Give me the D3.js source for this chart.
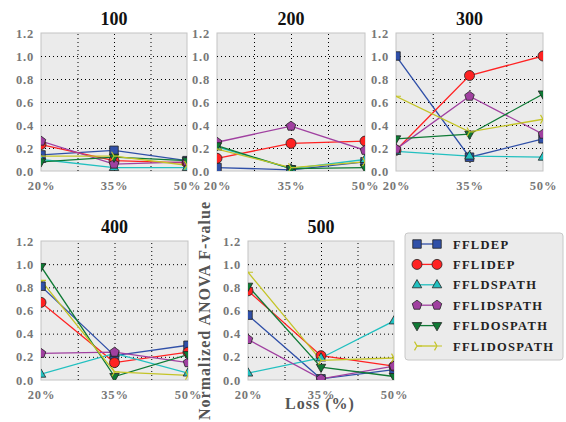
<!DOCTYPE html>
<html lang="en">
<head>
<meta charset="UTF-8">
<script src="https://cdnjs.cloudflare.com/ajax/libs/d3/7.8.5/d3.min.js"></script>
<title>Normalized ANOVA F-value</title>
<style>
  body { margin: 0; background: #fff; }
  text { font-family: "Liberation Serif", "DejaVu Serif", serif; font-weight: bold; }
</style>
</head>
<body>
<div id="chart"></div>
<script>
/* data */
var lossValues = [20, 35, 50];
var lossLabels = ["20%", "35%", "50%"];
var yTicks = [0, 0.2, 0.4, 0.6, 0.8, 1.0, 1.2];
var panelTitles = ["100", "200", "300", "400", "500"];
var seriesNames = ["FFLDEP", "FFLIDEP", "FFLDSPATH", "FFLIDSPATH", "FFLDOSPATH", "FFLIDOSPATH"];

/* one row per series, in seriesNames order: values at 20%, 35%, 50% */
var vals100 = [[0.14, 0.18, 0.09], [0.23, 0.09, 0.07], [0.10, 0.03, 0.03], [0.26, 0.06, 0.08], [0.08, 0.12, 0.09], [0.13, 0.13, 0.05]];
var vals200 = [[0.03, 0.01, 0.08], [0.11, 0.24, 0.26], [0.21, 0.02, 0.10], [0.25, 0.39, 0.18], [0.22, 0.02, 0.03], [0.19, 0.03, 0.08]];
var vals300 = [[1.00, 0.12, 0.28], [0.18, 0.83, 1.00], [0.17, 0.13, 0.12], [0.19, 0.65, 0.32], [0.28, 0.32, 0.67], [0.65, 0.34, 0.45]];
var vals400 = [[0.81, 0.21, 0.30], [0.67, 0.15, 0.24], [0.05, 0.23, 0.06], [0.23, 0.24, 0.15], [0.98, 0.03, 0.22], [0.86, 0.07, 0.04]];
var vals500 = [[0.56, 0.01, 0.09], [0.77, 0.21, 0.12], [0.06, 0.19, 0.51], [0.35, 0.01, 0.12], [0.81, 0.11, 0.03], [0.93, 0.17, 0.19]];

var colors = ["#3050a8", "#ff2222", "#22c0c0", "#a040a0", "#0f7a35", "#c4c428"];

var W = 566, H = 422;
var svg = d3.select("#chart").append("svg").attr("width", W).attr("height", H);

/* panel boxes [left, right, top, bottom] */
var boxes = [
  [41, 187, 33, 171],
  [217, 365, 33, 171],
  [396, 543, 33, 171],
  [41, 188, 241, 380],
  [248, 394, 241, 380]
];
var allVals = [vals100, vals200, vals300, vals400, vals500];

/* marker shapes, centred at 0,0 */
function markerPath(i, r) {
  var p = d3.path();
  if (i === 0) { p.rect(-r * 0.85, -r * 0.85, r * 1.7, r * 1.7); }
  else if (i === 1) { p.arc(0, 0, r, 0, 2 * Math.PI); }
  else if (i === 2) { p.moveTo(0, -r * 1.05); p.lineTo(r * 0.95, r * 0.6); p.lineTo(-r * 0.95, r * 0.6); p.closePath(); }
  else if (i === 3) {
    for (var k = 0; k < 5; k++) {
      var a = -Math.PI / 2 + k * 2 * Math.PI / 5;
      if (k === 0) p.moveTo(r * Math.cos(a), r * Math.sin(a)); else p.lineTo(r * Math.cos(a), r * Math.sin(a));
    }
    p.closePath();
  }
  else if (i === 4) { p.moveTo(0, r * 1.05); p.lineTo(r * 0.95, -r * 0.6); p.lineTo(-r * 0.95, -r * 0.6); p.closePath(); }
  else {
    p.moveTo(0, 0); p.lineTo(r, 0);
    p.moveTo(0, 0); p.lineTo(-r * 0.5, -r * 0.87);
    p.moveTo(0, 0); p.lineTo(-r * 0.5, r * 0.87);
  }
  return p.toString();
}

function drawMarker(g, i, x, y) {
  var m = g.append("path")
    .attr("d", markerPath(i, 5))
    .attr("transform", "translate(" + x + "," + y + ")");
  if (i === 5) m.attr("fill", "none").attr("stroke", colors[i]).attr("stroke-width", 1.2);
  else m.attr("fill", colors[i]).attr("stroke", "#222").attr("stroke-width", 0.8);
}

boxes.forEach(function(b, pi) {
  var x = d3.scaleLinear().domain([20, 50]).range([b[0], b[1]]);
  var y = d3.scaleLinear().domain([0, 1.2]).range([b[3], b[2]]);
  var g = svg.append("g");

  g.append("rect").attr("x", b[0]).attr("y", b[2])
    .attr("width", b[1] - b[0]).attr("height", b[3] - b[2])
    .attr("fill", "#ebebeb").attr("stroke", "#c4c4c4").attr("stroke-width", 1);

  /* dotted grid */
  var gx = d3.axisBottom(x).tickValues([27.5, 35, 42.5]).tickSize(-(b[3] - b[2])).tickFormat("");
  g.append("g").attr("transform", "translate(0," + b[3] + ")").call(gx)
    .call(function(s) { s.select(".domain").remove(); })
    .selectAll("line").attr("stroke", "#000").attr("stroke-width", 1).attr("stroke-dasharray", "1,3");
  var gy = d3.axisLeft(y).tickValues([0.2, 0.4, 0.6, 0.8, 1.0]).tickSize(-(b[1] - b[0])).tickFormat("");
  g.append("g").attr("transform", "translate(" + b[0] + ",0)").call(gy)
    .call(function(s) { s.select(".domain").remove(); })
    .selectAll("line").attr("stroke", "#000").attr("stroke-width", 1).attr("stroke-dasharray", "1,3");

  /* tick labels */
  var ya = d3.axisLeft(y).tickValues(yTicks).tickSize(0).tickPadding(7).tickFormat(d3.format(".1f"));
  g.append("g").attr("transform", "translate(" + b[0] + ",0)").call(ya)
    .call(function(s) { s.select(".domain").remove(); })
    .selectAll("text").attr("font-size", 12.5).attr("fill", "#777")
    .attr("letter-spacing", 0.8)
    .style("font-family", "'Liberation Serif', serif").style("font-weight", "bold");
  var xa = d3.axisBottom(x).tickValues(lossValues).tickSize(0).tickPadding(10)
    .tickFormat(function(d, i) { return lossLabels[i]; });
  g.append("g").attr("transform", "translate(0," + b[3] + ")").call(xa)
    .call(function(s) { s.select(".domain").remove(); })
    .selectAll("text").attr("font-size", 12.5).attr("fill", "#777")
    .attr("letter-spacing", 0.8)
    .style("font-family", "'Liberation Serif', serif").style("font-weight", "bold");

  g.append("text").attr("x", (b[0] + b[1]) / 2).attr("y", b[2] - 8)
    .attr("text-anchor", "middle").attr("font-size", 18).attr("fill", "#111")
    .text(panelTitles[pi]);

  /* series */
  var clipId = "clip" + pi;
  svg.append("clipPath").attr("id", clipId).append("rect")
    .attr("x", b[0]).attr("y", b[2]).attr("width", b[1] - b[0]).attr("height", b[3] - b[2]);
  var plot = g.append("g").attr("clip-path", "url(#" + clipId + ")");
  var line = d3.line().x(function(d, i) { return x(lossValues[i]); }).y(function(d) { return y(d); });
  allVals[pi].forEach(function(vals, si) {
    plot.append("path").attr("d", line(vals)).attr("fill", "none")
      .attr("stroke", colors[si]).attr("stroke-width", 1.3);
  });
  allVals[pi].forEach(function(vals, si) {
    vals.forEach(function(v, i) { drawMarker(plot, si, x(lossValues[i]), y(v)); });
  });
});

/* axis labels */
svg.append("text").attr("transform", "translate(210,311) rotate(-90)")
  .attr("text-anchor", "middle").attr("font-size", 16).attr("fill", "#555")
  .attr("textLength", 218).attr("lengthAdjust", "spacing")
  .text("Normalized ANOVA F-value");
svg.append("text").attr("x", 320).attr("y", 409)
  .attr("text-anchor", "middle").attr("font-size", 16).attr("fill", "#555")
  .attr("letter-spacing", 1)
  .text("Loss (%)");

/* legend */
var lg = svg.append("g");
lg.append("rect").attr("x", 405).attr("y", 233).attr("width", 158).attr("height", 127)
  .attr("rx", 3).attr("fill", "#ebebeb").attr("stroke", "#c8c8c8");
var ly = d3.scalePoint().domain(seriesNames).range([244, 346]);
seriesNames.forEach(function(name, i) {
  var yy = ly(name);
  lg.append("line").attr("x1", 417).attr("x2", 437).attr("y1", yy).attr("y2", yy)
    .attr("stroke", colors[i]).attr("stroke-width", 1.3);
  drawMarker(lg, i, 417, yy);
  drawMarker(lg, i, 437, yy);
  lg.append("text").attr("x", 453).attr("y", yy + 4.5)
    .attr("font-size", 12.5).attr("fill", "#222").attr("letter-spacing", 1.3)
    .text(name);
});
</script>
</body>
</html>
